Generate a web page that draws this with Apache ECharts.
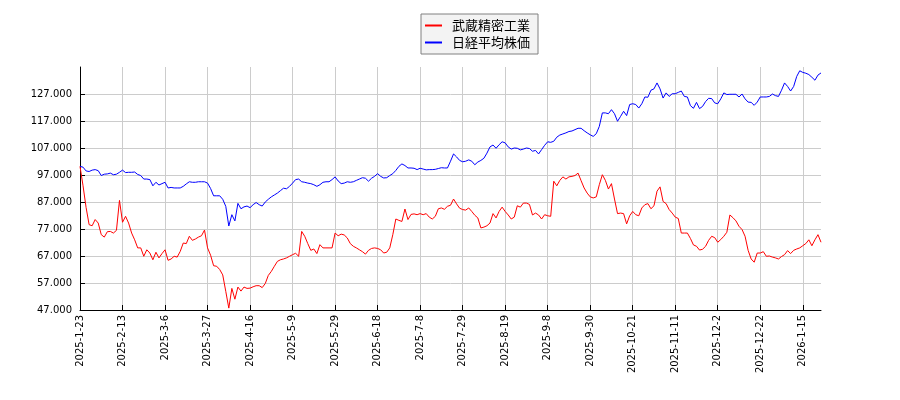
<!DOCTYPE html>
<html>
<head>
<meta charset="utf-8">
<script src="https://cdn.jsdelivr.net/npm/echarts@6/dist/echarts.min.js"></script>
<style>
html,body{margin:0;padding:0;background:#fff;}
#chart{width:900px;height:400px;}
</style>
</head>
<body>
<div id="chart"></div>
<script>
// Trading days (Tokyo), per month
const tradingDays = [
  ['2025-1', [23,24,27,28,29,30,31]],
  ['2025-2', [3,4,5,6,7,10,12,13,14,17,18,19,20,21,25,26,27,28]],
  ['2025-3', [3,4,5,6,7,10,11,12,13,14,17,18,19,21,24,25,26,27,28,31]],
  ['2025-4', [1,2,3,4,7,8,9,10,11,14,15,16,17,18,21,22,23,24,25,28,30]],
  ['2025-5', [1,2,7,8,9,12,13,14,15,16,19,20,21,22,23,26,27,28,29,30]],
  ['2025-6', [2,3,4,5,6,9,10,11,12,13,16,17,18,19,20,23,24,25,26,27,30]],
  ['2025-7', [1,2,3,4,7,8,9,10,11,14,15,16,17,18,22,23,24,25,28,29,30,31]],
  ['2025-8', [1,4,5,6,7,8,12,13,14,15,18,19,20,21,22,25,26,27,28,29]],
  ['2025-9', [1,2,3,4,5,8,9,10,11,12,16,17,18,19,22,24,25,26,29,30]],
  ['2025-10', [1,2,3,6,7,8,9,10,14,15,16,17,20,21,22,23,24,27,28,29,30,31]],
  ['2025-11', [4,5,6,7,10,11,12,13,14,17,18,19,20,21,25,26,27,28]],
  ['2025-12', [1,2,3,4,5,8,9,10,11,12,15,16,17,18,19,22,23,24,25,26,29,30]],
  ['2026-1', [5,6,7,8,9,13,14,15,16,19,20,21,22,23]]
];
const categories = [];
tradingDays.forEach(([m, days]) => days.forEach(d => categories.push(m + '-' + d)));

const seriesNames = ['武蔵精密工業', '日経平均株価'];

const musashi = [
100200,93000,85000,78600,78200,80500,79200,74900,74000,76000,
76100,75500,76500,87600,79500,81700,79200,75500,73000,70000,
70000,66900,69300,68100,65600,68400,66300,67900,69300,65400,
65900,66900,66600,68700,71800,71600,74300,72800,73300,74000,
74500,76600,70000,67300,63400,63200,62000,60000,53900,47700,
55000,51000,55500,54000,55500,55000,55100,55600,56000,56000,
55300,56800,59800,61300,63200,65000,65600,65900,66300,66900,
67500,68000,66900,76100,74300,71600,69100,69600,67900,71200,
70000,70000,70000,70000,75500,74500,75100,74800,73700,71600,
70600,70000,69300,68600,67700,69100,69800,70000,69800,69300,
68100,68400,70000,74900,80700,80200,79800,84400,80500,82400,
82600,82300,82700,82300,82700,81400,80700,81700,84500,84800,
84300,85400,85800,88100,86300,84700,84200,84000,84800,83500,
82100,81100,77400,77700,78200,79200,82700,81100,83500,85100,
83500,82200,80700,81400,85600,85100,86600,86600,86100,82200,
82900,82200,80700,82300,81900,81700,94700,93000,95000,96300,
95500,96300,96500,96800,97700,94900,92200,90300,88900,88500,
88900,93400,97100,95000,91800,93800,88100,82700,82900,82700,
78900,81900,83500,82300,81900,84800,86000,86400,84500,85600,
91000,92600,87200,86400,84200,82900,81400,80900,75500,75500,
75500,73500,71100,70600,69200,69500,70600,72800,74300,73800,
72100,73100,74300,75800,82200,81200,80000,78000,76800,74300,
69100,65900,64700,68100,68100,68600,66900,67000,66600,66300,
65900,66800,67500,69000,67900,69100,69600,70000,70800,71600,
73000,70800,73000,74900,72100
];

const nikkei = [
100200,99900,98500,98300,98800,99000,98600,96800,97300,97400,
97700,97100,97300,98000,98800,97900,98000,98000,98100,97200,
96800,95500,95500,95300,93000,94300,93300,93800,94300,92200,
92400,92200,92200,92200,92800,93700,94500,94300,94300,94500,
94500,94500,94000,92000,89300,89300,89300,88000,85400,78100,
82300,80000,86500,84500,85200,85500,84900,86000,86800,86000,
85500,87000,88000,88900,89600,90300,91200,92100,91900,92800,
94000,95300,95500,94500,94300,94000,93800,93400,92800,93400,
94300,94500,94500,95300,96300,94800,93800,94000,94500,94300,
94500,95000,95500,96000,95800,94700,95800,96500,97500,96500,
95900,96000,96800,97500,98700,100200,101100,100500,99600,99600,
99500,99000,99500,99200,98900,99000,99000,99100,99400,99700,
99600,99600,102100,104800,103700,102400,101900,102100,102600,102100,
100800,101800,102400,103200,105100,107400,108100,106900,108200,109300,
108900,107400,106600,107000,106900,106300,106600,107000,106800,105800,
106100,104800,106400,108000,109300,109100,109500,111000,111800,112200,
112600,113100,113300,113800,114300,114300,113400,112600,111900,111300,
112300,115000,120000,120000,119700,121200,119700,116900,118700,120600,
119000,123100,123400,123100,121800,123400,125900,125800,128400,128900,
131100,128900,125500,127400,126100,127100,127100,127600,128100,126100,
125900,122700,121700,123900,121600,122400,124200,125400,125300,123700,
123400,125200,127400,126800,126900,126900,126900,125900,127000,125200,
124000,123900,122800,124000,125900,125900,125900,126100,127000,126400,
126100,128400,131100,129800,128100,129800,133500,135600,135000,134700,
134200,133200,132100,134000,134800
];

const yTicksMin = 47000, yTicksMax = 137000, yTickStep = 10000;

const fmt = v => String(v).replace(/\B(?=(\d{3})+(?!\d))/g, '.');

const chart = echarts.init(document.getElementById('chart'), null, {renderer: 'canvas'});
chart.setOption({
  animation: false,
  backgroundColor: '#ffffff',
  grid: {left: 80, right: 79, top: 67, bottom: 90, containLabel: false},
  legend: {
    orient: 'vertical',
    left: 421,
    top: 14,
    icon: 'rect',
    itemWidth: 17,
    itemHeight: 2,
    itemGap: 4,
    padding: [5, 8, 5, 4],
    backgroundColor: '#f3f3f3',
    borderColor: '#808080',
    borderWidth: 1,
    textStyle: {fontFamily: 'Noto Sans CJK JP', fontSize: 13, color: '#000', padding: [0, 0, 0, 5]},
    data: seriesNames
  },
  xAxis: {
    type: 'category',
    data: categories,
    boundaryGap: false,
    axisLine: {show: true, lineStyle: {color: '#000', width: 1}},
    axisTick: {show: true, inside: true, length: 5, interval: 13, lineStyle: {color: '#000'}},
    axisLabel: {interval: 13, rotate: 90, fontFamily: 'DejaVu Sans', fontSize: 10, color: '#000', margin: 5},
    splitLine: {show: true, interval: 13, lineStyle: {color: '#cccccc', width: 1}}
  },
  yAxis: {
    type: 'value',
    min: yTicksMin,
    max: yTicksMax,
    interval: yTickStep,
    axisLine: {show: true, lineStyle: {color: '#000', width: 1}},
    axisTick: {show: true, inside: true, length: 5, lineStyle: {color: '#000'}},
    axisLabel: {formatter: fmt, showMaxLabel: false, fontFamily: 'DejaVu Sans', fontSize: 10, color: '#000', margin: 8},
    splitLine: {show: true, showMaxLine: false, lineStyle: {color: '#cccccc', width: 1}}
  },
  series: [
    {name: seriesNames[0], type: 'line', data: musashi, showSymbol: false, symbol: 'none',
     lineStyle: {color: '#ff0000', width: 1}, itemStyle: {color: '#ff0000'}},
    {name: seriesNames[1], type: 'line', data: nikkei, showSymbol: false, symbol: 'none',
     lineStyle: {color: '#0000ff', width: 1}, itemStyle: {color: '#0000ff'}}
  ]
});
</script>
</body>
</html>
